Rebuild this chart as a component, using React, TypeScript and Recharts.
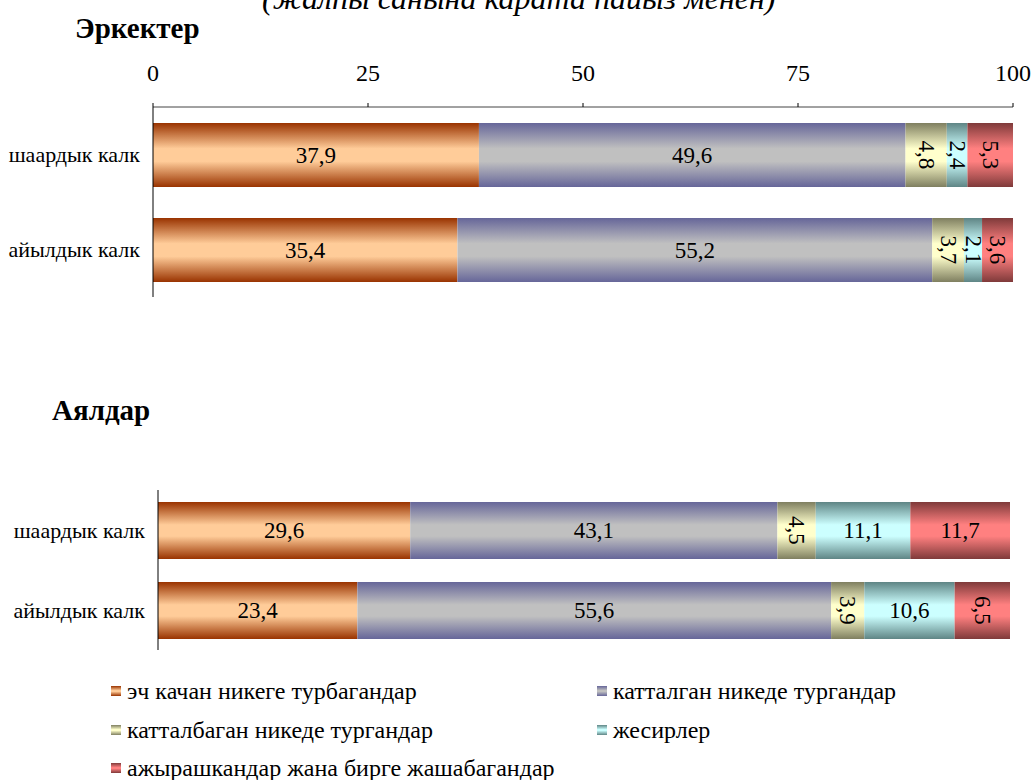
import React from 'react';
import { Bar, BarChart, LabelList, XAxis, YAxis } from 'recharts';

const categories = ['шаардык калк', 'айылдык калк'];

const seriesNames = [
  'эч качан никеге турбагандар',
  'катталган никеде тургандар',
  'катталбаган никеде тургандар',
  'жесирлер',
  'ажырашкандар жана бирге жашабагандар',
];
const seriesKeys = ['never', 'registered', 'unregistered', 'widowed', 'divorced'];

const menNever = [37.9, 35.4];
const menRegistered = [49.6, 55.2];
const menUnregistered = [4.8, 3.7];
const menWidowed = [2.4, 2.1];
const menDivorced = [5.3, 3.6];

const womenNever = [29.6, 23.4];
const womenRegistered = [43.1, 55.6];
const womenUnregistered = [4.5, 3.9];
const womenWidowed = [11.1, 10.6];
const womenDivorced = [11.7, 6.5];

const axisTicks = [0, 25, 50, 75, 100];

// edge / middle colours of the bar gradients
const edgeColors = ['#993300', '#666699', '#7f7f60', '#5f8585', '#7f3a3a'];
const midColors = ['#ffcc99', '#c0c0c0', '#ffffcc', '#ccffff', '#ff8080'];

const FONT = 'Liberation Serif, Times New Roman, serif';

function buildRows(cols: number[][]) {
  return categories.map((name, i) => {
    const row: Record<string, any> = { name };
    seriesKeys.forEach((k, s) => {
      row[k] = cols[s][i];
    });
    return row;
  });
}

const menData = buildRows([menNever, menRegistered, menUnregistered, menWidowed, menDivorced]);
const womenData = buildRows([womenNever, womenRegistered, womenUnregistered, womenWidowed, womenDivorced]);

const fmt = (v: any) => String(v).replace('.', ',');

function SegmentLabel(props: any) {
  const { x, y, width, height, value } = props;
  const cx = x + width / 2;
  const cy = y + height / 2;
  const rotated = width < 60;
  return (
    <text
      x={cx}
      y={cy}
      textAnchor="middle"
      dominantBaseline="central"
      fontSize={23}
      fontFamily={FONT}
      fill="#000"
      transform={rotated ? `rotate(90, ${cx}, ${cy})` : undefined}
    >
      {fmt(value)}
    </text>
  );
}

function Gradients({ prefix }: { prefix: string }) {
  return (
    <defs>
      {seriesKeys.map((k, i) => (
        <linearGradient key={k} id={`${prefix}-${k}`} x1="0" y1="0" x2="0" y2="1">
          <stop offset="0%" stopColor={edgeColors[i]} />
          <stop offset="40%" stopColor={midColors[i]} />
          <stop offset="60%" stopColor={midColors[i]} />
          <stop offset="100%" stopColor={edgeColors[i]} />
        </linearGradient>
      ))}
    </defs>
  );
}

function Bars(prefix: string) {
  return seriesKeys.map((k, i) => (
    <Bar key={k} dataKey={k} name={seriesNames[i]} stackId="a" fill={`url(#${prefix}-${k})`} isAnimationActive={false}>
      <LabelList dataKey={k} content={SegmentLabel} />
    </Bar>
  ));
}

const catTick = { fill: '#000', fontSize: 22, fontFamily: FONT };

export default function App() {
  return (
    <div
      style={{
        position: 'absolute',
        left: 0,
        top: 0,
        width: 1031,
        height: 780,
        overflow: 'hidden',
        background: '#fff',
        fontFamily: FONT,
      }}
    >
      <svg width={1031} height={780} style={{ position: 'absolute', left: 0, top: 0 }}>
        <text x={262} y={9} fontSize={32} fontStyle="italic" fontFamily={FONT} fill="#000">
          (жалпы санына карата пайыз менен)
        </text>
        <text x={75} y={38} fontSize={29} fontWeight="bold" fontFamily={FONT} fill="#000">
          Эркектер
        </text>
        <text x={52} y={420} fontSize={29} fontWeight="bold" fontFamily={FONT} fill="#000">
          Аялдар
        </text>
      </svg>

      <div style={{ position: 'absolute', left: 0, top: 0 }}>
        <BarChart
          width={1031}
          height={310}
          data={menData}
          layout="vertical"
          margin={{ top: 67, right: 18, bottom: 13, left: 0 }}
          barSize={64}
        >
          <Gradients prefix="m" />
          <XAxis
            type="number"
            orientation="top"
            domain={[0, 100]}
            ticks={axisTicks}
            height={40}
            tickSize={4}
            tickMargin={22}
            axisLine={{ stroke: '#444' }}
            tickLine={{ stroke: '#000' }}
            tick={{ fill: '#000', fontSize: 24, fontFamily: FONT }}
          />
          <YAxis
            type="category"
            dataKey="name"
            width={153}
            tickLine={false}
            tickSize={0}
            tickMargin={13}
            axisLine={{ stroke: '#000' }}
            tick={catTick}
          />
          {Bars('m')}
        </BarChart>
      </div>

      <div style={{ position: 'absolute', left: 0, top: 480 }}>
        <BarChart
          width={1031}
          height={190}
          data={womenData}
          layout="vertical"
          margin={{ top: 10, right: 21, bottom: 20, left: 0 }}
          barSize={57}
        >
          <Gradients prefix="w" />
          <XAxis type="number" domain={[0, 100]} hide />
          <YAxis
            type="category"
            dataKey="name"
            width={158}
            tickLine={false}
            tickSize={0}
            tickMargin={13}
            axisLine={{ stroke: '#000' }}
            tick={catTick}
          />
          {Bars('w')}
        </BarChart>
      </div>

      {seriesNames.map((label, i) => {
        const col = i % 2;
        const row = Math.floor(i / 2);
        return (
          <div
            key={label}
            style={{
              position: 'absolute',
              left: col === 0 ? 111 : 597,
              top: 676 + row * 38.5,
              height: 30,
              display: 'flex',
              alignItems: 'center',
              fontSize: 24,
              lineHeight: '26px',
              whiteSpace: 'nowrap',
            }}
          >
            <span
              style={{
                display: 'inline-block',
                width: 10,
                height: 10,
                marginRight: 6,
                background: `linear-gradient(to bottom, ${edgeColors[i]}, ${midColors[i]} 45%, ${midColors[i]} 55%, ${edgeColors[i]})`,
              }}
            />
            {label}
          </div>
        );
      })}
    </div>
  );
}
